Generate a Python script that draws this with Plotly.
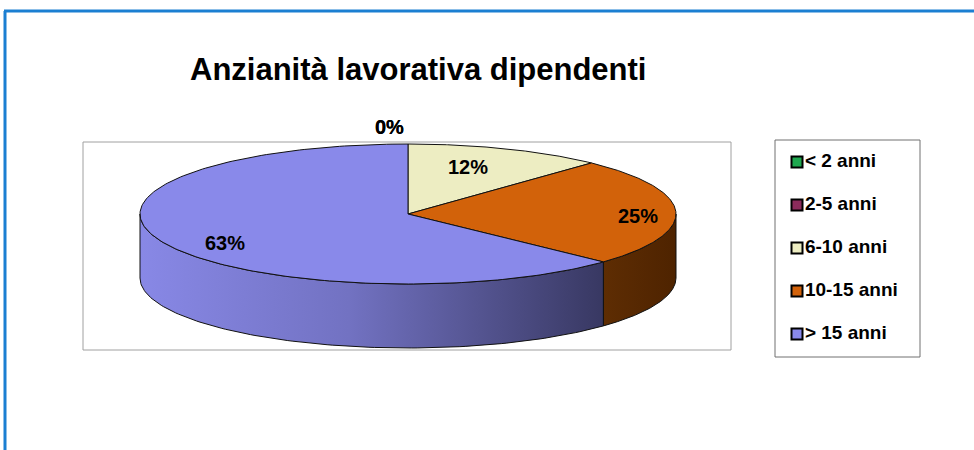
import numpy as np
import plotly.graph_objects as go

# ---- data ----
categories = ["< 2 anni", "2-5 anni", "6-10 anni", "10-15 anni", "> 15 anni"]
values = [0, 0, 12, 25, 63]
title_text = "Anzianità lavorativa dipendenti"

# ---- styles ----
top_colors = ["#1fa84f", "#8b2b5b", "#ededc2", "#d2620a", "#8989ea"]
side_colors = ["#136b32", "#5a1c3b", "#a9a98a", "#5a2a02", "#6f6fc0"]
side_gradient = {4: [[0, "#8888e6"], [0.45, "#7272c2"], [1, "#383862"]],
                 3: [[0, "#5e2d03"], [1, "#4e2300"]]}
label_r = [1.25, 1.25, 0.72, 0.86, 0.80]
label_shift = [(-19, 0), (-19, 0), (-11, 0), (0, 4), (14, 7)]
FONT = "Liberation Sans, Arial, sans-serif"

W, H = 974, 450
cx, cy, rx, ry, depth = 408, 214, 268, 70, 64


def pt(theta_deg, dz=0.0):
    t = np.radians(theta_deg)
    return cx + rx * np.cos(t), cy - ry * np.sin(t) + dz


fig = go.Figure()

total = float(sum(values))
starts, ends = [], []
cum = 0.0
for v in values:
    a0 = 90 - 360 * cum / total
    a1 = a0 - 360 * v / total
    starts.append(a0)
    ends.append(a1)
    cum += v

# sides (front half visible: theta in [-180, 0])
for i, v in enumerate(values):
    if v <= 0:
        continue
    lo = max(ends[i], -180)
    hi = min(starts[i], 0)
    if hi <= lo:
        continue
    th = np.linspace(lo, hi, 120)
    xt, yt = pt(th)
    xb, yb = pt(th[::-1], depth)
    xs = np.concatenate([xt, xb, xt[:1]])
    ys = np.concatenate([yt, yb, yt[:1]])
    kw = {}
    if i in side_gradient:
        kw["fillgradient"] = dict(type="horizontal", colorscale=side_gradient[i])
    fig.add_trace(go.Scatter(x=xs, y=ys, mode="lines", fill="toself",
                             fillcolor=side_colors[i],
                             line=dict(color="#111111", width=1),
                             hoverinfo="skip", showlegend=False, **kw))

# top faces
for i, v in enumerate(values):
    if v <= 0:
        continue
    th = np.linspace(starts[i], ends[i], 200)
    xa, ya = pt(th)
    xs = np.concatenate([[cx], xa, [cx]])
    ys = np.concatenate([[cy], ya, [cy]])
    fig.add_trace(go.Scatter(x=xs, y=ys, mode="lines", fill="toself",
                             fillcolor=top_colors[i],
                             line=dict(color="#111111", width=1),
                             hoverinfo="skip", showlegend=False))

# data labels
annotations = []
for i, v in enumerate(values):
    mid = (starts[i] + ends[i]) / 2
    t = np.radians(mid)
    lx = cx + rx * label_r[i] * np.cos(t) + label_shift[i][0]
    ly = cy - ry * label_r[i] * np.sin(t) + label_shift[i][1]
    annotations.append(dict(x=lx, y=ly, xref="x", yref="y",
                            text=f"{round(100 * v / total)}%", showarrow=False,
                            font=dict(family=FONT, size=20, color="#000000", weight="bold"),
                            xanchor="center", yanchor="middle"))

# title
annotations.append(dict(x=418, y=69, xref="x", yref="y", text=title_text,
                        showarrow=False, xanchor="center", yanchor="middle",
                        font=dict(family=FONT, size=31, color="#000000", weight="bold")))

# legend (manual, Excel-like)
leg_x0, leg_y0, leg_x1, leg_y1 = 775, 140, 920, 357
leg_first, leg_step = 162, 43
fig.add_trace(go.Scatter(
    x=[797] * len(categories),
    y=[leg_first + leg_step * k for k in range(len(categories))],
    mode="markers+text", text=categories, textposition="middle right",
    textfont=dict(family=FONT, size=19, color="#000000", weight="bold"),
    marker=dict(symbol="square", size=11, color=top_colors,
                line=dict(color="#000000", width=2)),
    hoverinfo="skip", showlegend=False, cliponaxis=False))

shapes = [
    # plot area frame
    dict(type="rect", xref="x", yref="y", x0=83, y0=142, x1=731, y1=350,
         line=dict(color="#a0a0a0", width=1), layer="below"),
    # legend box
    dict(type="rect", xref="x", yref="y", x0=leg_x0, y0=leg_y0, x1=leg_x1, y1=leg_y1,
         line=dict(color="#707070", width=1), layer="below"),
    # outer blue border
    dict(type="line", xref="x", yref="y", x0=5, y0=11, x1=5, y1=460,
         line=dict(color="#1b7fd2", width=3)),
    dict(type="line", xref="x", yref="y", x0=4, y0=11, x1=990, y1=11,
         line=dict(color="#1b7fd2", width=3)),
]

fig.update_layout(
    width=W, height=H, margin=dict(l=0, r=0, t=0, b=0),
    paper_bgcolor="#ffffff", plot_bgcolor="#ffffff",
    xaxis=dict(range=[0, W], visible=False, fixedrange=True),
    yaxis=dict(range=[H, 0], visible=False, fixedrange=True),
    annotations=annotations, shapes=shapes, showlegend=False,
)

fig.write_html("out.html", config={"displayModeBar": False},
               post_script="document.body.style.margin='0';document.body.style.overflow='hidden';")
